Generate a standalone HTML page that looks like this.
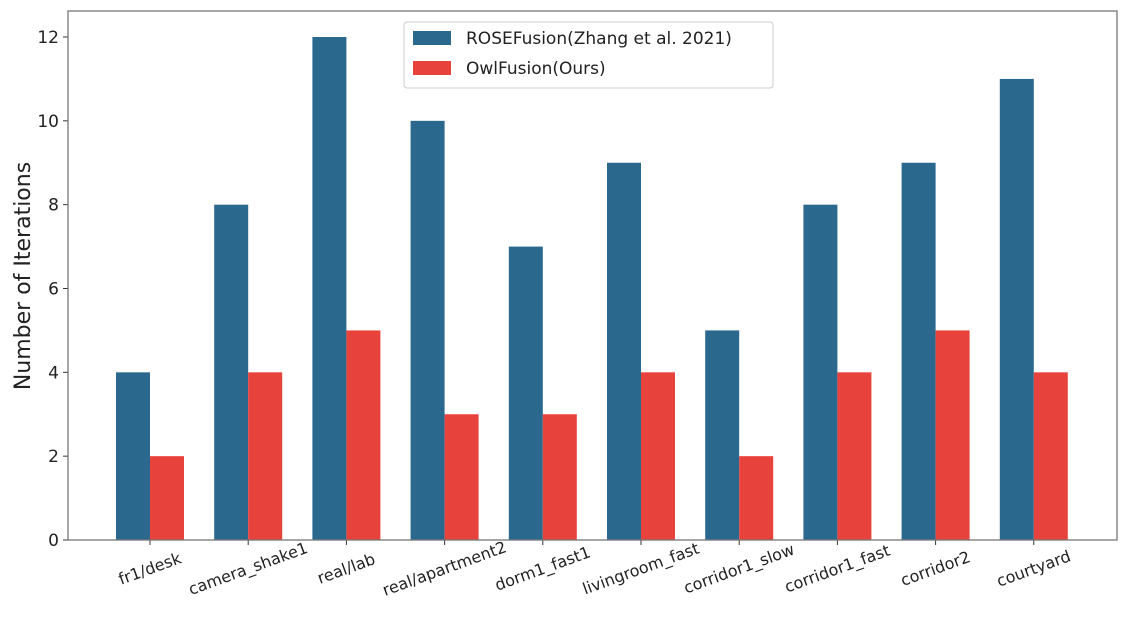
<!DOCTYPE html>
<html><head><meta charset="utf-8"><style>
body{margin:0;background:#fff;}
svg{display:block;font-family:"DejaVu Sans","Liberation Sans",sans-serif;}
</style></head><body>
<svg id="chart" width="1123" height="619"></svg>
<script>
const categories=["fr1/desk","camera_shake1","real/lab","real/apartment2","dorm1_fast1","livingroom_fast","corridor1_slow","corridor1_fast","corridor2","courtyard"];
const roseValues=[4,8,12,10,7,9,5,8,9,11];
const owlValues=[2,4,5,3,3,4,2,4,5,4];
const yTicks=[0,2,4,6,8,10,12];
const seriesNames=["ROSEFusion(Zhang et al. 2021)","OwlFusion(Ours)"];
const NS="http://www.w3.org/2000/svg";
const svg=document.getElementById('chart');
const L=68,R=1117,T=11,B=540;
const y=v=>B-(v/12)*(B-37);
const x0=150,step=98.2,bw=34;
const x=i=>x0+i*step;
function mk(t,a,p){const e=document.createElementNS(NS,t);for(const k in a)e.setAttribute(k,a[k]);(p||svg).appendChild(e);return e;}
const bars=mk('g',{});


categories.forEach((c,i)=>{
  const b1=mk('rect',{x:x(i)-bw,y:y(roseValues[i]),width:bw,height:B-y(roseValues[i]),fill:'#2a688e'},bars);
  
  
  const b2=mk('rect',{x:x(i),y:y(owlValues[i]),width:bw,height:B-y(owlValues[i]),fill:'#e8423d'},bars);
  
  
  mk('line',{x1:x(i),x2:x(i),y1:B,y2:B+5,stroke:'#333','stroke-width':1});
  const t=mk('text',{x:x(i),y:B+34,'font-size':16,fill:'#222','text-anchor':'middle',transform:`rotate(-20 ${x(i)} ${B+29})`});
  t.textContent=c;
  
  
});
yTicks.forEach(v=>{
  mk('line',{x1:L-5,x2:L,y1:y(v),y2:y(v),stroke:'#333','stroke-width':1});
  const t=mk('text',{x:L-9,y:y(v)+6,'font-size':17,fill:'#222','text-anchor':'end'});
  t.textContent=v;
  
  
});
const frame=mk('rect',{x:L,y:T,width:R-L,height:B-T,fill:'none',stroke:'#777','stroke-width':1.3});


const yl=mk('text',{x:0,y:0,'font-size':22,fill:'#222','text-anchor':'middle',transform:'translate(30 276) rotate(-90)'});
yl.textContent='Number of Iterations';


const lg=mk('g',{});


mk('rect',{x:404,y:22,width:369,height:66,fill:'#fff',stroke:'#ccc','stroke-width':1,rx:3},lg);
['#2a688e','#e8423d'].forEach((col,k)=>{
  mk('rect',{x:413,y:31+k*30,width:38,height:14,fill:col},lg);
  const t=mk('text',{x:466,y:44+k*30,'font-size':17,fill:'#222'},lg);
  t.textContent=seriesNames[k];
  
  
});
</script>
</body></html>
